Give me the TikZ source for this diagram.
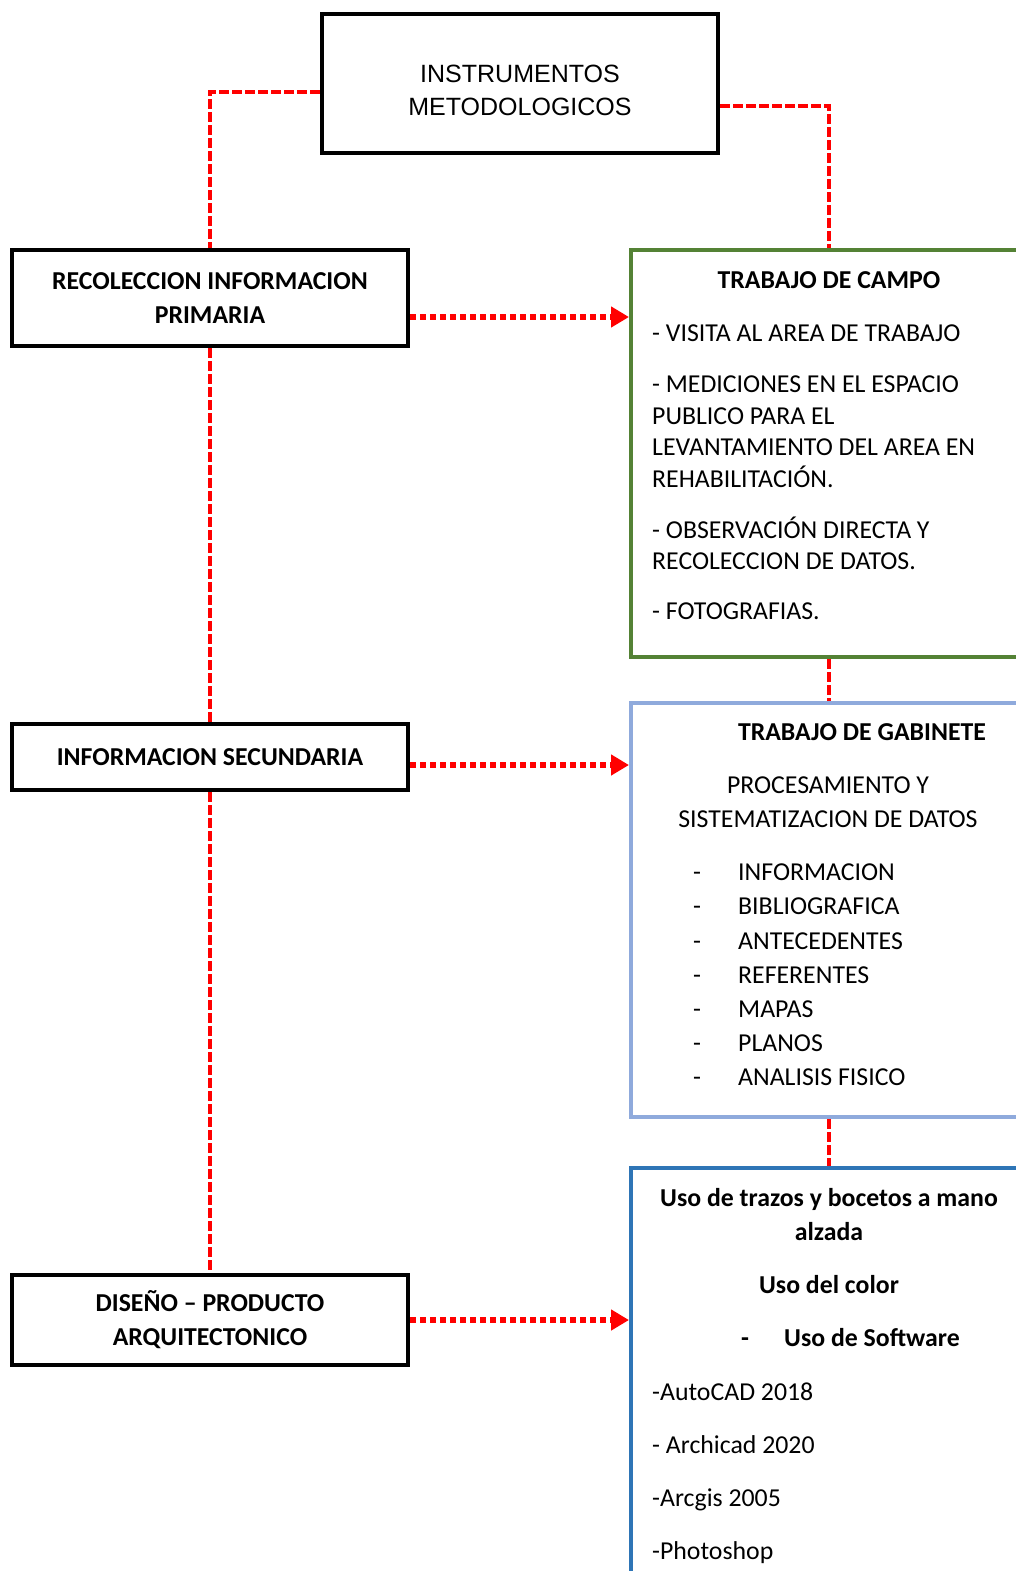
\documentclass[tikz,border=0pt]{standalone}
\usepackage{fontspec}
\setmainfont{Carlito}
\newfontfamily\titlefont{Liberation Sans}
\usetikzlibrary{arrows.meta,positioning}
\definecolor{CampoGreen}{HTML}{548235}
\definecolor{GabBlue}{HTML}{8FAADC}
\definecolor{DisBlue}{HTML}{2E75B6}
\definecolor{LinkRed}{HTML}{FF0000}

\begin{document}
\begin{tikzpicture}[x=1pt,y=-1pt,
    box/.style={draw,line width=4.5pt,minimum width=396pt,inner sep=0pt,align=center,font=\bfseries\fontsize{25.8}{34}\selectfont},
    panel/.style={draw,line width=4pt,minimum width=396pt,inner sep=0pt},
    link/.style={LinkRed,line width=4pt,dash pattern=on 10pt off 3pt},
    feed/.style={LinkRed,line width=6pt,dash pattern=on 6pt off 4pt,-{Triangle[length=18pt,width=20pt]}},
    txt/.style={inner sep=0pt,font=\fontsize{25.8}{31.5}\selectfont},
    txtb/.style={inner sep=0pt,font=\bfseries\fontsize{25.8}{34}\selectfont}]
        \useasboundingbox(0,0)rectangle(1016,1571);
        \clip(0,0)rectangle(1016,1571);
        % boxes
        \node[box,font=\titlefont\fontsize{25}{33}\selectfont,minimum height=139pt](title)at(520,83.5){\rule{0pt}{32pt}INSTRUMENTOS\\METODOLOGICOS};
        \node[box,minimum height=96pt](rec)at(210,298){RECOLECCION INFORMACION\\PRIMARIA};
        \node[box,minimum height=66pt](sec)at(210,757){INFORMACION SECUNDARIA};
        \node[box,minimum height=90pt](dis)at(210,1320){DISEÑO – PRODUCTO\\ARQUITECTONICO};
        \node[panel,CampoGreen,minimum height=407pt](campo)at(829,453.5){};
        \node[panel,GabBlue,minimum height=414pt](gabinete)at(829,910){};
        \node[panel,DisBlue,minimum height=500pt](diseno)at(829,1418){};
        % dashed links
        \draw[link]([yshift=-8.5pt]title.west)-|(rec.north);
        \draw[link]([yshift=-22.5pt]title.east)-|(campo.north);
        \draw[link](rec.south)--(sec.north);
        \draw[link](sec.south)--(dis.north);
        \draw[link](campo.south)--(gabinete.north);
        \draw[link](gabinete.south)--(diseno.north);
        % dotted arrows
        \coordinate(recOut)at([yshift=-19pt]rec.east);
        \coordinate(secOut)at([yshift=-8pt]sec.east);
        \coordinate(disOut)at(dis.east);
        \draw[feed](recOut)--(recOut-|campo.west);
        \draw[feed](secOut)--(secOut-|gabinete.west);
        \draw[feed](disOut)--(disOut-|diseno.west);
        % trabajo de campo
        \node[txtb,anchor=base](campoTit)at(829,288){TRABAJO DE CAMPO};
        \node[txt,anchor=north west,align=left](campoTxt)at(652,324.7){- VISITA AL AREA DE TRABAJO\\[19.5pt]- MEDICIONES EN EL ESPACIO\\PUBLICO PARA EL\\LEVANTAMIENTO DEL AREA EN\\REHABILITACIÓN.\\[19.5pt]- OBSERVACIÓN DIRECTA Y\\RECOLECCION DE DATOS.\\[18.5pt]- FOTOGRAFIAS.};
        % trabajo de gabinete
        \node[txtb,anchor=base](gabTit)at(862,740){TRABAJO DE GABINETE};
        \node[txt,anchor=north,align=center,font=\fontsize{25.8}{34}\selectfont](gabProc)at(828,776.7){PROCESAMIENTO Y\\SISTEMATIZACION DE DATOS};
        \node[txt,anchor=north west,align=left,font=\fontsize{25.8}{34.2}\selectfont](gabList)at(693,863.7){\makebox[45pt][l]{-}INFORMACION\\\makebox[45pt][l]{-}BIBLIOGRAFICA\\\makebox[45pt][l]{-}ANTECEDENTES\\\makebox[45pt][l]{-}REFERENTES\\\makebox[45pt][l]{-}MAPAS\\\makebox[45pt][l]{-}PLANOS\\\makebox[45pt][l]{-}ANALISIS FISICO};
        % diseno
        \node[txtb,anchor=north,align=center](disTit)at(829,1188){Uso de trazos y bocetos a mano\\alzada\\[19pt]Uso del color};
        \node[txtb,anchor=base west](disSoft)at(741,1346){\makebox[43pt][l]{-}Uso de Software};
        \node[txt,anchor=north west,align=left,font=\fontsize{25.8}{53}\selectfont](disList)at(652,1382.7){-AutoCAD 2018\\- Archicad 2020\\-Arcgis 2005\\-Photoshop};
\end{tikzpicture}
\end{document}
